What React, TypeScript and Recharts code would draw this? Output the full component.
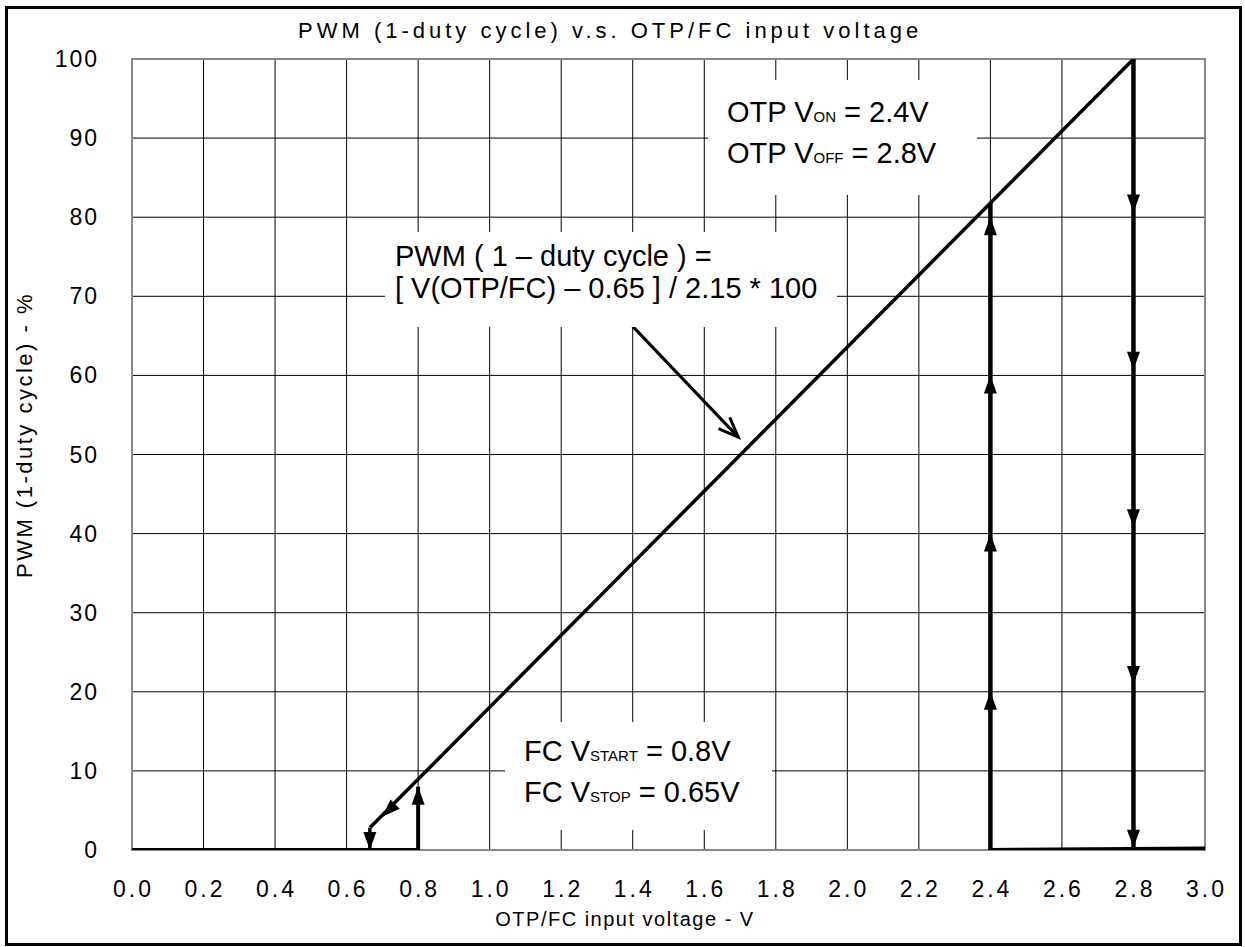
import React from "react";
import {
  ComposedChart,
  Line,
  Scatter,
  XAxis,
  YAxis,
  CartesianGrid,
  ReferenceArea,
} from "recharts";

const FONT = '"Liberation Sans", Arial, sans-serif';

// axis ticks
const X_TICKS = [0, 0.2, 0.4, 0.6, 0.8, 1.0, 1.2, 1.4, 1.6, 1.8, 2.0, 2.2, 2.4, 2.6, 2.8, 3.0];
const Y_TICKS = [0, 10, 20, 30, 40, 50, 60, 70, 80, 90, 100];

// hysteresis path segments (V, %)
const baseLow = [{ x: 0, y: 0 }, { x: 0.8, y: 0 }];
const baseHigh = [{ x: 2.4, y: 0 }, { x: 3.0, y: 0.2 }];
const fcUp = [{ x: 0.8, y: 0 }, { x: 0.8, y: 8 }];
const fcDrop = [{ x: 0.665, y: 2.8 }, { x: 0.665, y: 0 }];
const pwmLine = [{ x: 0.665, y: 2.8 }, { x: 2.8, y: 100 }];
const otpUp = [{ x: 2.4, y: 0 }, { x: 2.4, y: 81.8 }];
const otpDown = [{ x: 2.8, y: 100 }, { x: 2.8, y: 0 }];
const pointer = [{ x: 1.4, y: 66.2 }, { x: 1.695, y: 52.2 }];

// arrow heads: tip position + direction (deg, clockwise from up)
const arrowHeads = [
  { x: 0.8, y: 8, angle: 0 },
  { x: 0.665, y: 0, angle: 180 },
  { x: 0.7, y: 4.2, angle: 225 },
  { x: 2.4, y: 20, angle: 0 },
  { x: 2.4, y: 40, angle: 0 },
  { x: 2.4, y: 60, angle: 0 },
  { x: 2.4, y: 80, angle: 0 },
  { x: 2.8, y: 80.6, angle: 180 },
  { x: 2.8, y: 60.7, angle: 180 },
  { x: 2.8, y: 40.8, angle: 180 },
  { x: 2.8, y: 21, angle: 180 },
  { x: 2.8, y: 0.3, angle: 180 },
];
const pointerHead = [{ x: 1.695, y: 52.2, angle: 135 }];

const Head = (props: any) => {
  const { cx, cy, payload } = props;
  return (
    <path
      d="M0,0 L-6.5,18 L6.5,18 Z"
      fill="#000"
      transform={`translate(${cx},${cy}) rotate(${payload.angle})`}
    />
  );
};

const OpenHead = (props: any) => {
  const { cx, cy, payload } = props;
  return (
    <path
      d="M-8,20 L0,0 L8,20"
      fill="none"
      stroke="#000"
      strokeWidth={3}
      transform={`translate(${cx},${cy}) rotate(${payload.angle})`}
    />
  );
};

const XTick = ({ x, y, payload }: any) => (
  <text x={x + 1.5} y={y} dy={17} textAnchor="middle" fontSize={23} letterSpacing={3} fontFamily={FONT} fill="#000">
    {Number(payload.value).toFixed(1)}
  </text>
);

const YTick = ({ x, y, payload }: any) => (
  <text x={x + 2} y={y} dy={8} textAnchor="end" fontSize={23} letterSpacing={2} fontFamily={FONT} fill="#000">
    {payload.value}
  </text>
);

const Sub = ({ children }: any) => <span style={{ fontSize: 15, lineHeight: 0 }}>{children}</span>;

const box = (left: number, top: number, width: number, height: number): React.CSSProperties => ({
  position: "absolute",
  left,
  top,
  width,
  height,
  background: "#fff",
  boxSizing: "border-box",
});

const lineProps = { dataKey: "y", dot: false, isAnimationActive: false, stroke: "#000", type: "linear" as const };

export default function App() {
  return (
    <div style={{ position: "absolute", left: 0, top: 0, width: 1245, height: 947, background: "#fff", fontFamily: FONT }}>
      <ComposedChart width={1245} height={947} margin={{ top: 59, right: 40, left: 0, bottom: 0 }}>
        <CartesianGrid stroke="#000" strokeWidth={1} horizontalValues={Y_TICKS} verticalValues={X_TICKS} />
        <XAxis
          dataKey="x"
          type="number"
          domain={[0, 3]}
          ticks={X_TICKS}
          height={97}
          axisLine={false}
          tickLine={false}
          tickSize={0}
          tickMargin={30}
          tick={<XTick />}
          allowDataOverflow
        />
        <YAxis
          dataKey="y"
          type="number"
          domain={[0, 100]}
          ticks={Y_TICKS}
          width={132}
          axisLine={false}
          tickLine={false}
          tickSize={0}
          tickMargin={35}
          tick={<YTick />}
          allowDataOverflow
        />
        <ReferenceArea x1={0} x2={3} y1={0} y2={100} fill="none" stroke="#888" strokeWidth={2} />
        <Line data={baseLow} {...lineProps} strokeWidth={4} />
        <Line data={baseHigh} {...lineProps} strokeWidth={4} />
        <Line data={fcUp} {...lineProps} strokeWidth={4} />
        <Line data={fcDrop} {...lineProps} strokeWidth={3.5} />
        <Line data={pwmLine} {...lineProps} strokeWidth={3.5} />
        <Line data={otpUp} {...lineProps} strokeWidth={4.5} />
        <Line data={otpDown} {...lineProps} strokeWidth={4.5} />
        <Line data={pointer} {...lineProps} strokeWidth={3} />
        <Scatter data={arrowHeads} dataKey="y" shape={<Head />} isAnimationActive={false} />
        <Scatter data={pointerHead} dataKey="y" shape={<OpenHead />} isAnimationActive={false} />
      </ComposedChart>

      {/* outer frame */}
      <div style={{ position: "absolute", left: 5, top: 6, width: 1237, height: 940, border: "3px solid #000", boxSizing: "border-box", pointerEvents: "none" }} />

      {/* title */}
      <div style={{ position: "absolute", left: 298, top: 18, width: 624, textAlign: "center", fontSize: 22, letterSpacing: 4, whiteSpace: "nowrap" }}>
        PWM (1-duty cycle) v.s. OTP/FC input voltage
      </div>

      {/* x label */}
      <div style={{ position: "absolute", left: 490, top: 908, width: 270, textAlign: "center", fontSize: 20, letterSpacing: 1.5, whiteSpace: "nowrap" }}>
        OTP/FC input voltage - V
      </div>

      {/* y label */}
      <div
        style={{
          position: "absolute",
          left: 25,
          top: 435,
          transform: "translate(-50%, -50%) rotate(-90deg)",
          fontSize: 22,
          letterSpacing: 2.5,
          whiteSpace: "nowrap",
        }}
      >
        PWM (1-duty cycle) - %
      </div>

      {/* formula annotation */}
      <div style={{ ...box(385, 232, 452, 95), padding: "8px 0 0 10px", fontSize: 29, lineHeight: "32px", whiteSpace: "nowrap" }}>
        <div>PWM ( 1 – duty cycle ) =</div>
        <div>[ V(OTP/FC) – 0.65 ] / 2.15 * 100</div>
      </div>

      {/* OTP annotation */}
      <div style={{ ...box(708, 80, 269, 115), padding: "12px 0 0 19px", fontSize: 29, lineHeight: "41px", whiteSpace: "nowrap" }}>
        <div>OTP V<Sub>ON</Sub> = 2.4V</div>
        <div>OTP V<Sub>OFF</Sub> = 2.8V</div>
      </div>

      {/* FC annotation */}
      <div style={{ ...box(505, 722, 267, 108), padding: "9px 0 0 19px", fontSize: 29, lineHeight: "41px", whiteSpace: "nowrap" }}>
        <div>FC V<Sub>START</Sub> = 0.8V</div>
        <div>FC V<Sub>STOP</Sub> = 0.65V</div>
      </div>
    </div>
  );
}
